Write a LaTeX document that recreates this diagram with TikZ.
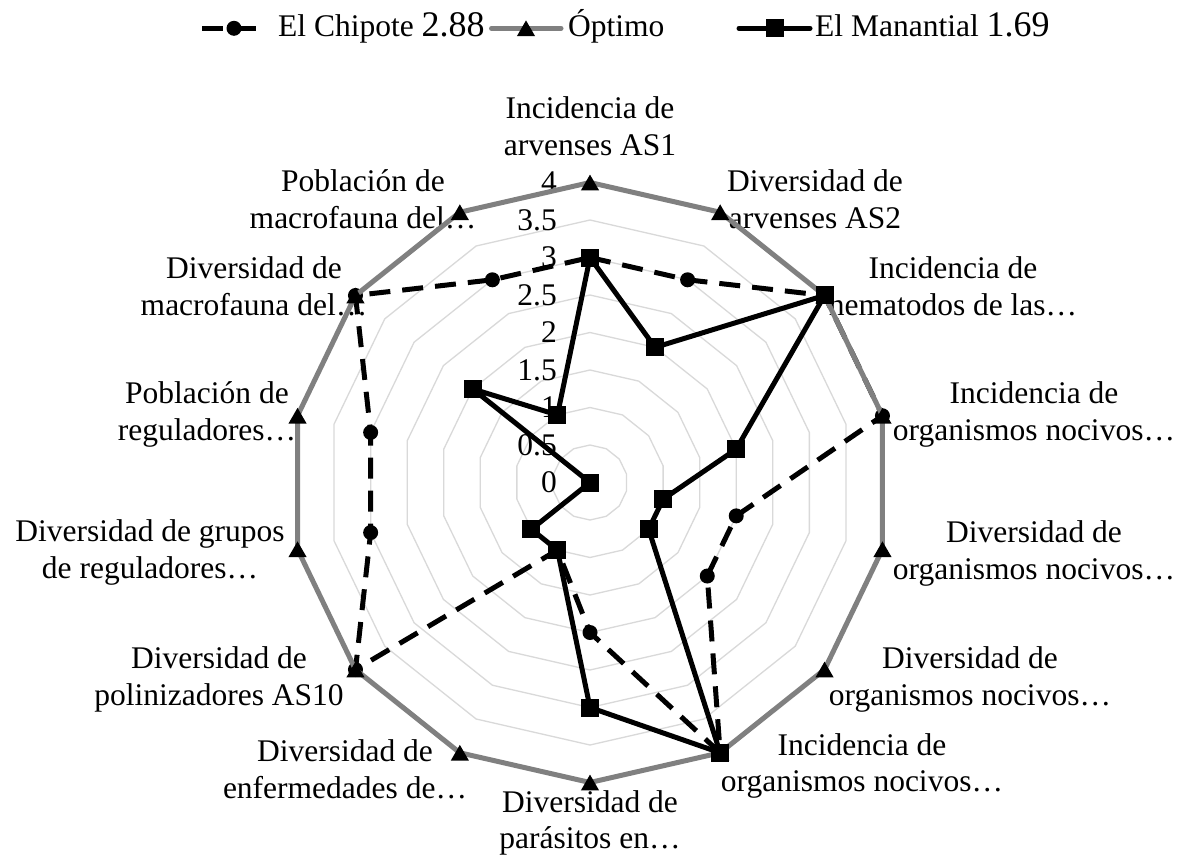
\documentclass[tikz,border=0pt]{standalone}
\usepackage{fontspec}
\setmainfont{Liberation Serif}
\usetikzlibrary{shapes.geometric}

\definecolor{optgray}{HTML}{808080}
\definecolor{gridgray}{HTML}{D9D9D9}

\tikzset{
  txt/.style={font=\fontsize{31.5}{36.7}\selectfont, inner sep=0pt},
  catlbl/.style={txt, align=center, anchor=base},
  ticklbl/.style={txt, anchor=east},
  gridline/.style={draw=gridgray, line width=1.3pt, line join=round},
  chline/.style={draw=black, line width=5pt, dash pattern=on 21pt off 12pt},
  optline/.style={draw=optgray, line width=5pt, line join=round},
  maline/.style={draw=black, line width=5pt, line join=round},
  chmark/.style={circle, fill=black, inner sep=0pt, minimum size=15pt},
  optmark/.style={regular polygon, regular polygon sides=3, fill=black,
    inner sep=0pt, minimum size=21pt, yshift=-2.6pt},
  mamark/.style={rectangle, fill=black, inner sep=0pt, minimum size=18pt},
}

\begin{document}
\begin{tikzpicture}[x=1pt, y=-1pt]
\useasboundingbox (0,0) rectangle (1187,865);
\fill[white] (0,0) rectangle (1187,865);

\def\cx{590}
\def\cy{482.5}
\def\ru{75}

% concentric grid rings every 0.5
\foreach \v in {0.5,1,...,4}{
  \draw[gridline] ({\cx}, {\cy-\v*\ru})
    \foreach \k in {1,...,13}{ -- ({\cx+\v*\ru*cos(90-\k*360/14)}, {\cy-\v*\ru*sin(90-\k*360/14)}) } -- cycle;
}

% scale values along the first axis
\foreach \v/\t in {0/0, 0.5/0.5, 1/1, 1.5/1.5, 2/2, 2.5/2.5, 3/3, 3.5/3.5, 4/4}{
  \node[ticklbl] (tk\t) at (557, {\cy-\v*\ru}) {\t};
}

% category labels (placed on the baseline of their last line)
\node[catlbl] (c0)  at (590, 155) {Incidencia de\\arvenses AS1};
\node[catlbl] (c1)  at (815, 228.4) {Diversidad de\\arvenses AS2};
\node[catlbl] (c2)  at (953, 315) {Incidencia de\\nematodos de las…};
\node[catlbl] (c3)  at (1034, 440) {Incidencia de\\organismos nocivos…};
\node[catlbl] (c4)  at (1034, 579.4) {Diversidad de\\organismos nocivos…};
\node[catlbl] (c5)  at (970, 705) {Diversidad de\\organismos nocivos…};
\node[catlbl] (c6)  at (862, 791.7) {Incidencia de\\organismos nocivos…};
\node[catlbl] (c7)  at (590, 848.7) {Diversidad de\\parásitos en…};
\node[catlbl] (c8)  at (345, 798.4) {Diversidad de\\enfermedades de…};
\node[catlbl] (c9)  at (219, 705) {Diversidad de\\polinizadores AS10};
\node[catlbl] (c10) at (150, 578.4) {Diversidad de grupos\\de reguladores…};
\node[catlbl] (c11) at (207, 440) {Población de\\reguladores…};
\node[catlbl] (c12) at (254, 315) {Diversidad de\\macrofauna del…};
\node[catlbl] (c13) at (363, 228.4) {Población de\\macrofauna del…};

% data points of the three series
\foreach \v [count=\k from 0] in {3,3,4,4,2,2,4,2,1,4,3,3,4,3}{
  \coordinate (ch\k) at ({\cx+\v*\ru*cos(90-\k*360/14)}, {\cy-\v*\ru*sin(90-\k*360/14)});
}
\foreach \k in {0,...,13}{
  \coordinate (op\k) at ({\cx+4*\ru*cos(90-\k*360/14)}, {\cy-4*\ru*sin(90-\k*360/14)});
}
\foreach \v [count=\k from 0] in {3,2,4,2,1,1,4,3,1,1,0,0,2,1}{
  \coordinate (ma\k) at ({\cx+\v*\ru*cos(90-\k*360/14)}, {\cy-\v*\ru*sin(90-\k*360/14)});
}

% El Chipote
\draw[chline] (ch0) \foreach \k in {1,...,13}{ -- (ch\k) } -- cycle;
\foreach \k in {0,...,13}{ \node[chmark] (chm\k) at (ch\k) {}; }

% Optimo
\draw[optline] (op0) \foreach \k in {1,...,13}{ -- (op\k) } -- cycle;
\foreach \k in {0,...,13}{ \node[optmark] (opm\k) at (op\k) {}; }

% El Manantial
\draw[maline] (ma0) \foreach \k in {1,...,13}{ -- (ma\k) } -- cycle;
\foreach \k in {0,...,13}{ \node[mamark] (mam\k) at (ma\k) {}; }

% legend
\coordinate (lg1a) at (202,28.3);
\coordinate (lg1b) at (264,28.3);
\draw[chline] (lg1a) -- (lg1b);
\node[chmark] (lg1m) at (234,28.3) {};
\node[txt, anchor=base west] (lg1t) at (278,36.7) {El Chipote {\fontsize{36}{40}\selectfont 2.88}};

\coordinate (lg2a) at (491.5,28.3);
\coordinate (lg2b) at (561,28.3);
\draw[optline, line cap=round] (lg2a) -- (lg2b);
\node[optmark] (lg2m) at (526,28.3) {};
\node[txt, anchor=base west] (lg2t) at (568,36.7) {Óptimo};

\coordinate (lg3a) at (739,28.3);
\coordinate (lg3b) at (810,28.3);
\draw[maline, line cap=round] (lg3a) -- (lg3b);
\node[mamark] (lg3m) at (774.5,28.3) {};
\node[txt, anchor=base west] (lg3t) at (815,36.7) {El Manantial {\fontsize{36}{40}\selectfont 1.69}};
\end{tikzpicture}
\end{document}
